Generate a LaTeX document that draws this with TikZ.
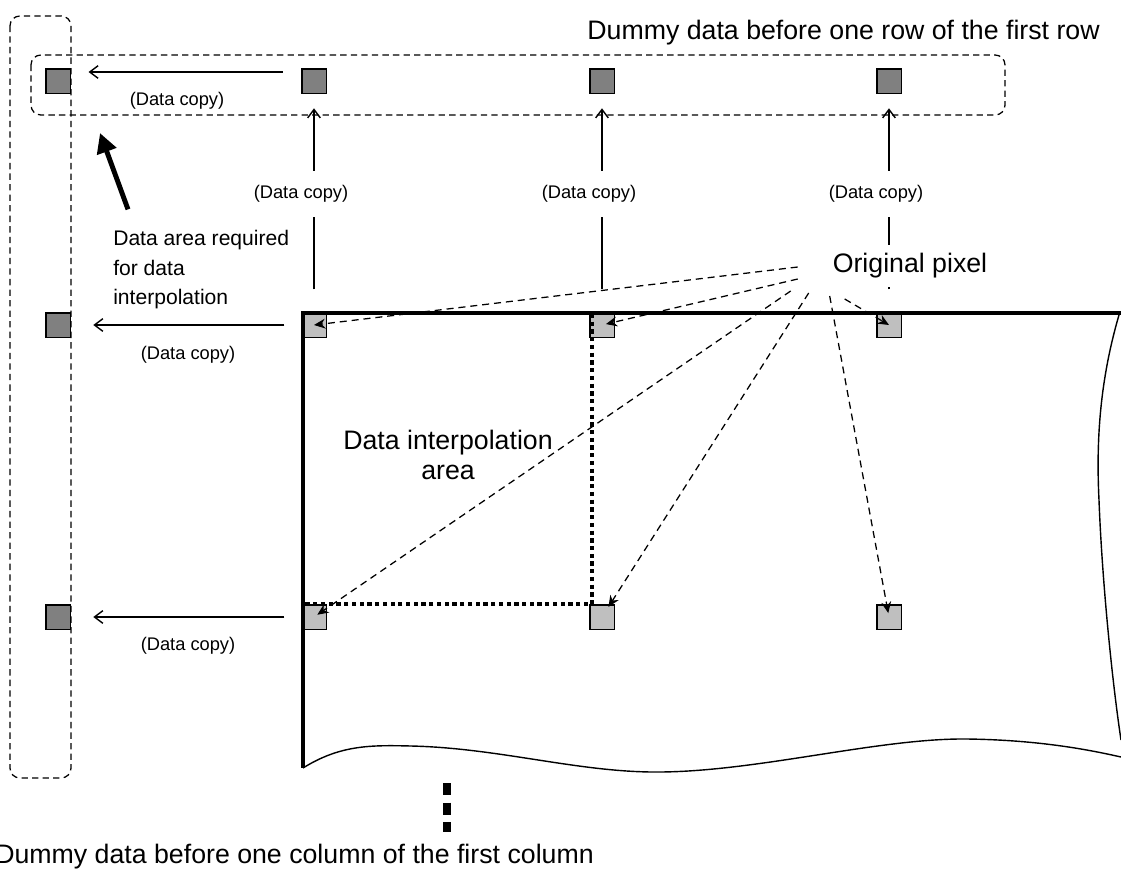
\documentclass[tikz,border=0pt]{standalone}
\usepackage{fontspec}
\setmainfont{Liberation Sans}
\usetikzlibrary{arrows.meta, calc}

\begin{document}
\begin{tikzpicture}[x=0.025cm, y=-0.025cm,
    pixel/.style={draw, line width=1pt, minimum size=0.61cm, inner sep=0pt},
    darkpx/.style={pixel, fill=gray},
    lightpx/.style={pixel, fill=gray!50},
    boxline/.style={line width=0.9pt, dash pattern=on 4.5pt off 3pt, rounded corners=7pt},
    copyline/.style={line width=1pt, -{Straight Barb[length=6pt,width=9pt]}},
    fanline/.style={line width=0.9pt, dash pattern=on 5pt off 3.5pt, -{Stealth[length=8pt,width=7pt]}},
    copylabel/.style={font=\fontsize{13}{15}\selectfont},
    biglabel/.style={font=\fontsize{19}{21}\selectfont, inner sep=0pt}]
    \useasboundingbox (0,0) rectangle (1121,876);

    % dummy areas
    \draw[boxline] (10,16) rectangle (71,778);
    \draw[boxline] (31,55) rectangle (1005,115);

    % pixels
    \node[darkpx] (d0) at (58,81) {};
    \node[darkpx] (dl1) at (58,325) {};
    \node[darkpx] (dl2) at (58,617) {};
    \foreach \n/\x in {1/314, 2/602, 3/889} {
        \node[darkpx] (dt\n) at (\x,81) {};
        \node[lightpx] (p1\n) at (\x,325) {};
        \node[lightpx] (p2\n) at (\x,617) {};
    }

    % image frame
    \draw[line width=3pt] (1121,313) -- (303,313) -- (303,768);
    \draw[line width=1pt] (303,768) .. controls (340,745) and (370,745) .. (411,746)
        .. controls (500,748) and (580,773) .. (661,772)
        .. controls (760,771) and (880,738) .. (967,739)
        .. controls (1040,740) and (1090,750) .. (1121,757);
    \draw[line width=1pt] (1119,315) .. controls (1100,380) and (1096,440) .. (1099,500)
        .. controls (1102,580) and (1112,680) .. (1121,740);
    \draw[line width=3pt, dash pattern=on 3pt off 2.5pt] (592,314) -- (592,604) -- (305,604);
    \draw[line width=5pt, dash pattern=on 8.5pt off 5.5pt] (447,783) -- (447,832);

    % data copy
    \draw[copyline, shorten <=0.46cm, shorten >=0.44cm] ([yshift=0.225cm]dt1.west) -- ([yshift=0.225cm]d0.east);
    \draw[copyline, shorten <=0.42cm, shorten >=0.56cm] (p11.west) -- (dl1.east);
    \draw[copyline, shorten <=0.42cm, shorten >=0.56cm] (p21.west) -- (dl2.east);
    \node[copylabel] (c0) at (177,101) {(Data copy)};
    \node[copylabel] (c1) at (188,355) {(Data copy)};
    \node[copylabel] (c2) at (188,646) {(Data copy)};
    \foreach \n/\x in {1/314, 2/602, 3/889} {
        \draw[copyline, shorten <=0.565cm, shorten >=0.36cm] (p1\n.north) -- (dt\n.south);
        \node[copylabel, fill=white, inner ysep=10pt] (cv\n) at (\x-13,194) {(Data copy)};
    }

    % original pixels
    \node[biglabel, fill=white, inner xsep=2pt, inner ysep=6pt] (orig) at (910,266) {Original pixel};
    \draw[fanline] ($(orig.west)+(-32,1)$) -- (p11.center);
    \draw[fanline, shorten >=0.1cm] ($(orig.west)+(-32,13)$) -- (p12.center);
    \draw[fanline, shorten >=0.1cm] ($(orig.west)+(-39,25)$) -- (p21.center);
    \draw[fanline, shorten >=0.3cm] ($(orig.west)+(-21,27)$) -- (p22.center);
    \draw[fanline, shorten >=0.1cm] ($(orig.west)+(0,30)$) -- (p23.center);
    \draw[fanline] ($(orig.west)+(15,33)$) -- (p13.center);

    % texts
    \node[biglabel, anchor=east] (rowtxt) at (1100,33) {Dummy data before one row of the first row};
    \node[biglabel, anchor=west] (coltxt) at (-5,857) {Dummy data before one column of the first column};
    \node[biglabel, align=center] (area) at (448,455) {Data interpolation\\area};
    \node[font=\fontsize{15}{21}\selectfont, inner sep=0pt, align=left, anchor=west] (req) at (113,270)
        {Data area required\\for data\\interpolation};
    \coordinate (reqtip) at (100,133);
    \draw[line width=3.5pt, -{Triangle[length=14pt,width=14pt]}] ($(req.north west)+(15,-21)$) -- (reqtip);
\end{tikzpicture}
\end{document}
